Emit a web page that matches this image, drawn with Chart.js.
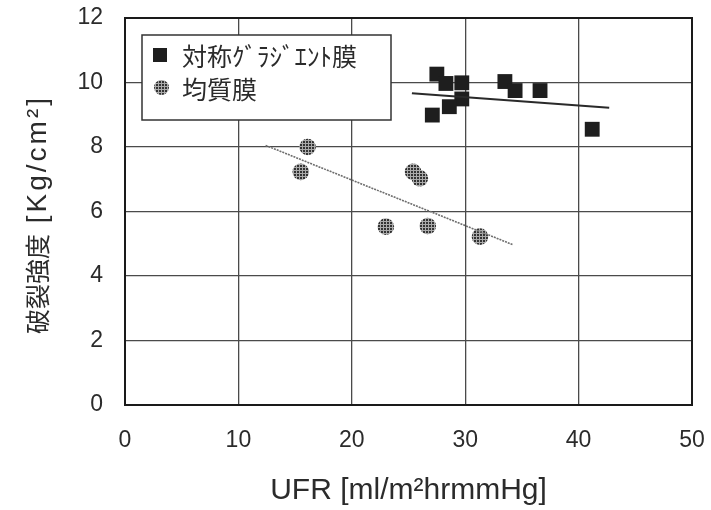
<!DOCTYPE html>
<html>
<head>
<meta charset="utf-8">
<script src="https://cdn.jsdelivr.net/npm/chart.js@4.4.1/dist/chart.umd.min.js"></script>
<style>
  html, body { margin: 0; padding: 0; background: #fff; }
  #wrap { width: 711px; height: 510px; }
</style>
</head>
<body>
<div id="wrap"><canvas id="chart" width="711" height="510"></canvas></div>
<script>
// 対称グラジエント膜 (black squares)
const gradLabel = '対称ｸﾞﾗｼﾞｴﾝﾄ膜';
const gradUFR   = [27.5, 28.3, 29.7, 29.7, 28.6, 27.1, 33.5, 34.4, 36.6, 41.2];
const gradBurst = [10.26, 9.97, 9.99, 9.49, 9.25, 8.99, 10.03, 9.75, 9.75, 8.55];
const gradTrendUFR   = [25.3, 42.7];
const gradTrendBurst = [9.67, 9.22];

// 均質膜 (hatched circles)
const homoLabel = '均質膜';
const homoUFR   = [16.1, 15.5, 25.4, 26.0, 23.0, 26.7, 31.3];
const homoBurst = [8.0, 7.23, 7.23, 7.03, 5.53, 5.55, 5.22];
const homoTrendUFR   = [12.4, 34.2];
const homoTrendBurst = [8.05, 4.97];

const xTicks = [0, 10, 20, 30, 40, 50];
const yTicks = [0, 2, 4, 6, 8, 10, 12];

const xTitle = 'UFR [ml/m²hrmmHg]';
const yTitleJa = '破裂強度';
const yTitleUnit = ' [Kg/cm²]';

const LATIN = '"Liberation Sans", Arial, sans-serif';
const CJK = '"Noto Sans CJK JP", "Liberation Sans", sans-serif';
const INK = '#2b2b2b';

const toPoints = (xs, ys) => xs.map((x, i) => ({ x, y: ys[i] }));

// small dotted tile used as the fill of the circle markers
function hatchPattern() {
  const tile = document.createElement('canvas');
  tile.width = 3; tile.height = 3;
  const t = tile.getContext('2d');
  t.fillStyle = '#aaaaaa';
  t.fillRect(0, 0, 3, 3);
  t.fillStyle = '#333333';
  t.fillRect(0, 0, 2, 2);
  return document.getElementById('chart').getContext('2d').createPattern(tile, 'repeat');
}
const hatch = hatchPattern();

// full frame around the plot, in-plot legend and rotated y title
const framePlugin = {
  id: 'frame',
  afterDraw(chart) {
    const { ctx, chartArea: a } = chart;
    ctx.save();
    ctx.strokeStyle = '#1a1a1a';
    ctx.lineWidth = 2;
    ctx.strokeRect(a.left, a.top, a.right - a.left, a.bottom - a.top);

    // legend box
    ctx.fillStyle = '#fff';
    ctx.fillRect(142, 35, 249, 85);
    ctx.strokeStyle = '#333';
    ctx.lineWidth = 1.5;
    ctx.strokeRect(142, 35, 249, 85);

    ctx.fillStyle = '#1e1e1e';
    ctx.fillRect(153, 48, 14, 14);
    ctx.beginPath();
    ctx.arc(161.5, 87.5, 7.5, 0, Math.PI * 2);
    ctx.fillStyle = hatch;
    ctx.fill();

    ctx.fillStyle = INK;
    ctx.font = '25px ' + CJK;
    ctx.textBaseline = 'middle';
    ctx.textAlign = 'left';
    ctx.fillText(chart.data.datasets[0].label, 182, 56);
    ctx.fillText(chart.data.datasets[1].label, 182, 89);

    // y axis title, reading bottom to top
    ctx.translate(37, 334);
    ctx.rotate(-Math.PI / 2);
    ctx.font = '25px ' + CJK;
    ctx.fillText(yTitleJa, 0, 0);
    const w = ctx.measureText(yTitleJa).width;
    ctx.font = '28px ' + LATIN;
    ctx.letterSpacing = '3px';
    ctx.fillText(yTitleUnit, w, 1);
    ctx.restore();
  }
};

new Chart(document.getElementById('chart'), {
  type: 'scatter',
  data: {
    datasets: [
      {
        label: gradLabel,
        data: toPoints(gradUFR, gradBurst),
        pointStyle: 'rect',
        pointRadius: 10.5,
        pointHoverRadius: 10.5,
        backgroundColor: '#1e1e1e',
        borderWidth: 0,
        order: 1
      },
      {
        label: homoLabel,
        data: toPoints(homoUFR, homoBurst),
        pointStyle: 'circle',
        pointRadius: 8.3,
        pointHoverRadius: 8.3,
        backgroundColor: hatch,
        borderWidth: 0,
        order: 1
      },
      {
        label: 'grad-trend',
        type: 'line',
        data: toPoints(gradTrendUFR, gradTrendBurst),
        borderColor: '#2a2a2a',
        borderWidth: 2,
        pointRadius: 0,
        fill: false,
        order: 0
      },
      {
        label: 'homo-trend',
        type: 'line',
        data: toPoints(homoTrendUFR, homoTrendBurst),
        borderColor: '#6e6e6e',
        borderWidth: 1.6,
        borderDash: [2, 1],
        pointRadius: 0,
        fill: false,
        order: 0
      }
    ]
  },
  options: {
    responsive: false,
    animation: false,
    events: [],
    layout: { padding: { top: 18, right: 19, bottom: 1, left: 0 } },
    plugins: { legend: { display: false }, tooltip: { enabled: false } },
    scales: {
      x: {
        type: 'linear',
        min: 0, max: 50,
        afterBuildTicks: s => { s.ticks = xTicks.map(v => ({ value: v })); },
        afterFit: s => { s.height = 104; s.paddingLeft = 0; s.paddingRight = 0; },
        ticks: { color: INK, font: { family: LATIN, size: 23 }, padding: 22 },
        grid: { color: '#4a4a4a', lineWidth: 1.3, drawTicks: false },
        border: { display: false },
        title: {
          display: true,
          text: xTitle,
          color: INK,
          font: { family: LATIN, size: 30 },
          padding: { top: 0, bottom: 0 }
        }
      },
      y: {
        type: 'linear',
        min: 0, max: 12,
        afterBuildTicks: s => { s.ticks = yTicks.map(v => ({ value: v })); },
        afterFit: s => { s.width = 125; s.paddingTop = 0; s.paddingBottom = 0; },
        ticks: { color: INK, font: { family: LATIN, size: 23 }, padding: 22 },
        grid: { color: '#4a4a4a', lineWidth: 1.3, drawTicks: false },
        border: { display: false }
      }
    }
  },
  plugins: [framePlugin]
});
</script>
</body>
</html>
